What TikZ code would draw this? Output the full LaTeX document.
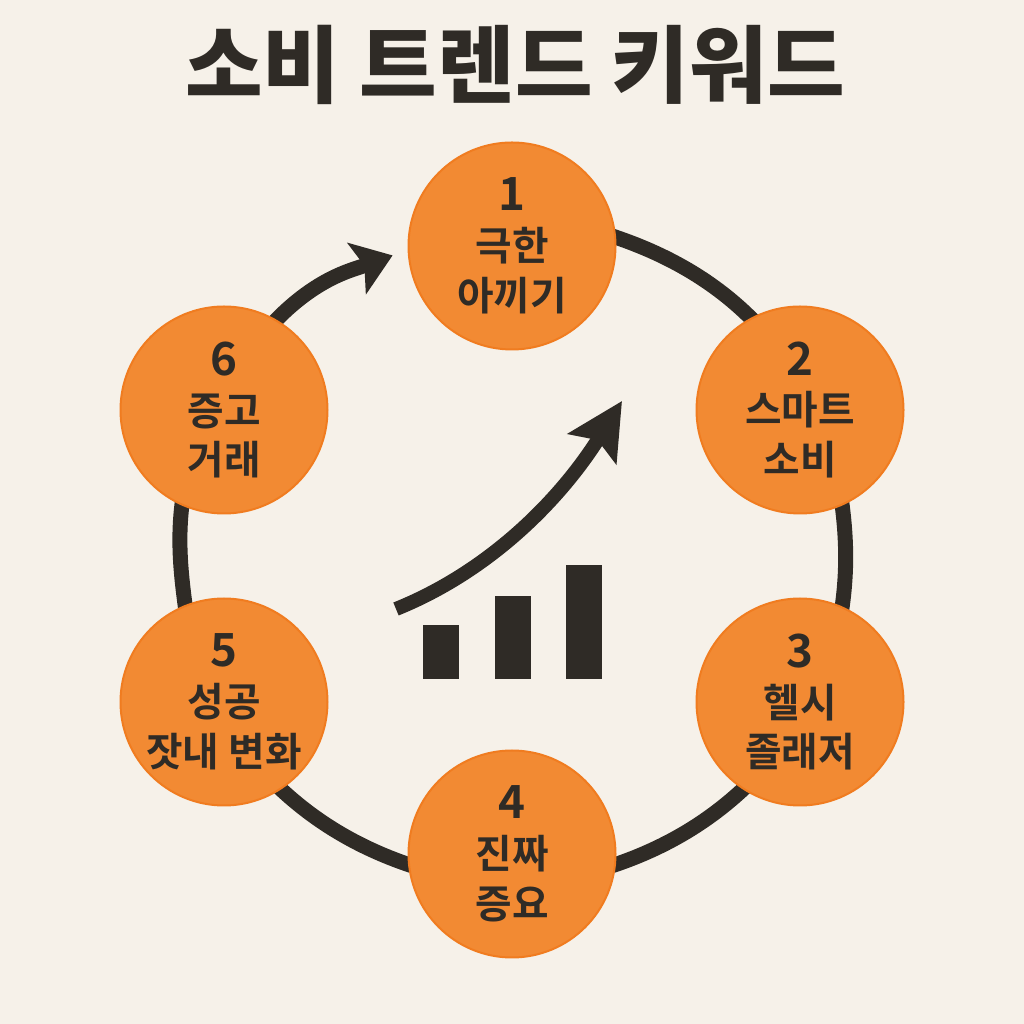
\documentclass[tikz,border=0pt]{standalone}
\usepackage{fontspec}
\usepackage{tikz}
\usetikzlibrary{arrows.meta, backgrounds}
\newfontfamily\korfont{Noto Sans CJK KR}[BoldFont=* Bold]
\newfontfamily\titlefont{Noto Sans CJK KR}[UprightFont=* Black]
\definecolor{paper}{HTML}{F6F1E9}
\definecolor{inkdark}{HTML}{2F2B26}
\definecolor{keyorange}{HTML}{F28A33}
\definecolor{keyedge}{HTML}{F07C20}
\tikzset{
  keyword/.style={circle, fill=keyorange, draw=keyedge, line width=0.2mm, minimum size=20.7mm,
    inner sep=0pt, outer sep=0pt, align=center, text=inkdark, font=\korfont\bfseries\fontsize{11.3}{14.2}\selectfont},
  ringline/.style={draw=inkdark, line width=1.5mm, looseness=0.85, shorten <=-0.6mm, shorten >=-0.6mm},
}

\begin{document}
\begin{tikzpicture}[x=0.1mm, y=0.1mm]
\useasboundingbox (0,0) rectangle (1024,1024);

% Title
\node[font=\titlefont\fontsize{24}{28}\selectfont, text=inkdark] (title) at (515,959) {소비 트렌드 키워드};

% Keywords round the ring
\foreach \nm/\x/\y/\num/\first/\second in {
  1/512/778/1/극한/아끼기, 2/800/614/2/스마트/소비, 3/800/322/3/헬시/졸래저,
  4/512/170/4/진짜/증요, 5/224/322/5/성공/잣내 변화, 6/224/614/6/증고/거래} {
  \node[keyword] (kw\nm) at (\x,\y) {{\fontsize{13}{14.2}\selectfont\num}\\\first\\\second};
}

% Ring segments
\begin{scope}[on background layer]
\fill[paper] (0,0) rectangle (1024,1024);
\foreach \a/\b/\sa/\ta/\o/\i in {
  1/2/5/118/-18/134, 2/3/-66/66/-82/81, 3/4/-123/-6/-136/18,
  4/5/186/-57/162/-44, 5/6/112/246/98/262} {
  \draw[ringline] (kw\a.\sa) to[out=\o, in=\i] (kw\b.\ta);
}
\draw[ringline, shorten >=1.7mm, -{Stealth[length=3.8mm, width=5.4mm, inset=0.8mm]}]
  (kw6.60) to[out=47, in=200, looseness=1] (kw1.182);
\end{scope}

% Rising arrow and bars
\coordinate (trendtail) at (396,415);
\coordinate (trendtip) at (622,623);
\draw[draw=inkdark, line width=1.4mm, -{Stealth[length=5.6mm, width=5.6mm, inset=1mm]}]
  (trendtail) to[out=22, in=238, looseness=0.9] (trendtip);
\foreach \x/\top in {423/399, 495/428, 566/459} {
  \fill[inkdark] (\x,345) rectangle (\x+36,\top);
}
\end{tikzpicture}
\end{document}
